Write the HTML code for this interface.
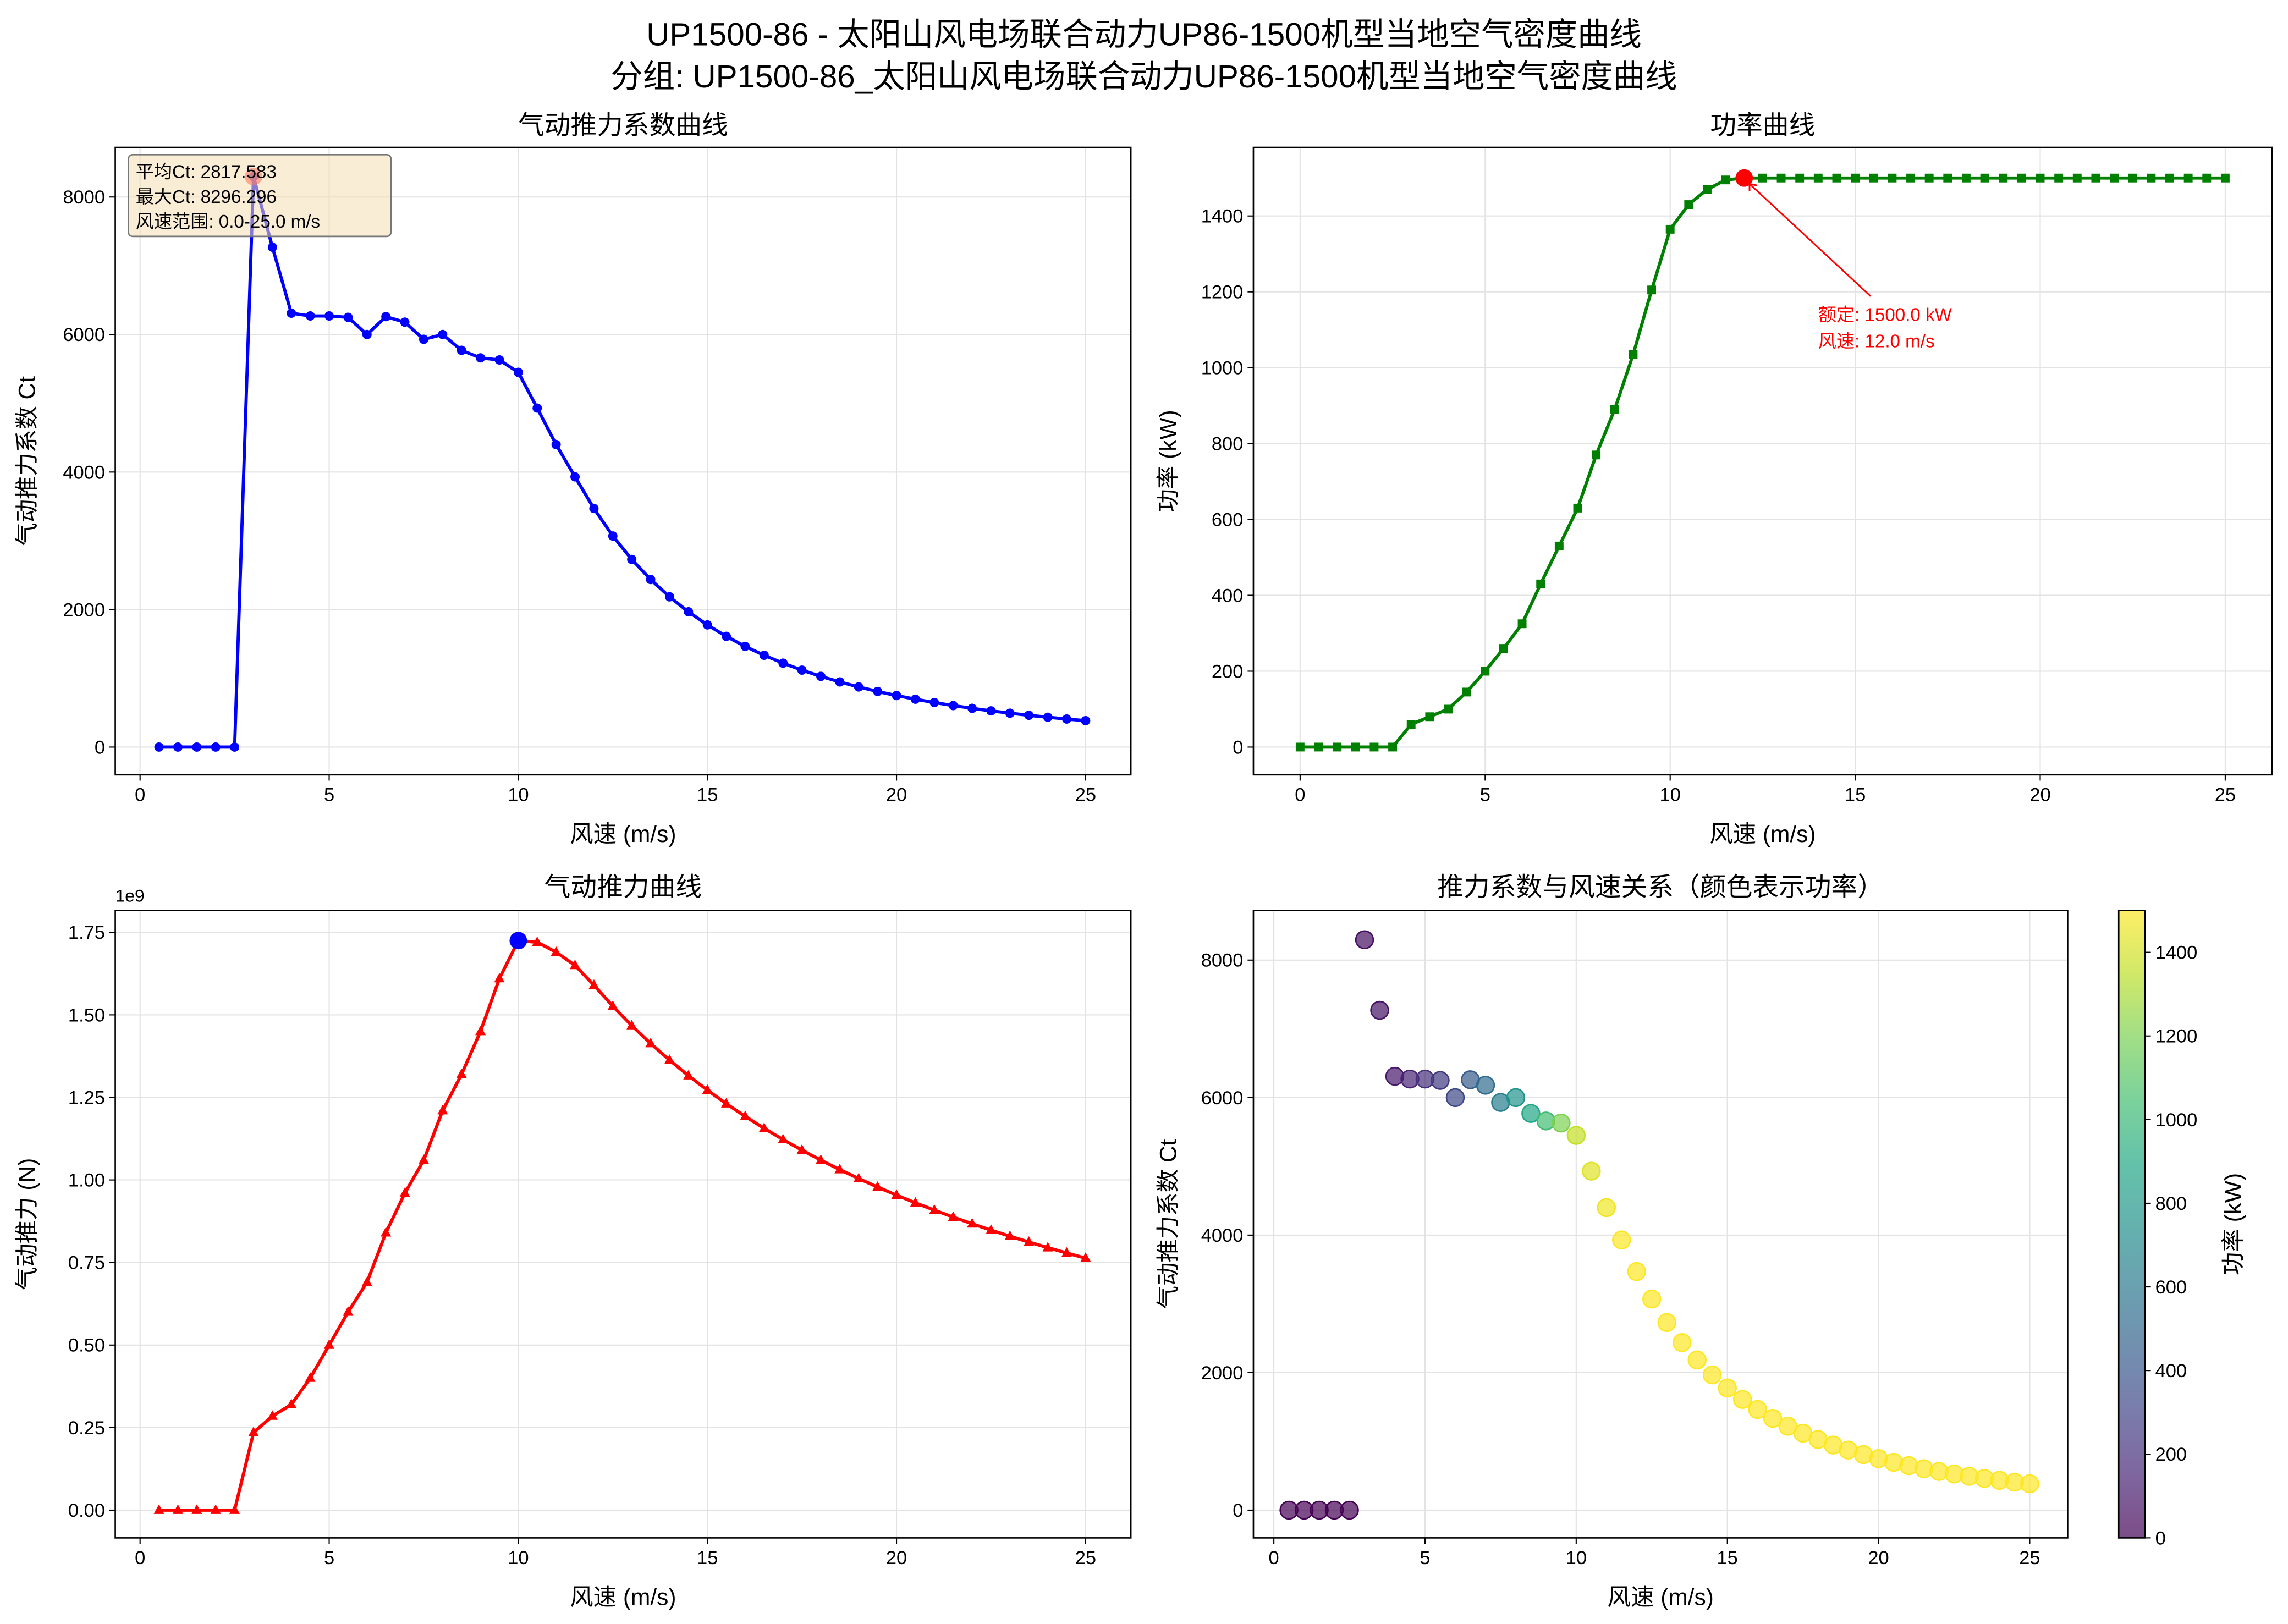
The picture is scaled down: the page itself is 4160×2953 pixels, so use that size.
<!DOCTYPE html>
<html><head><meta charset="utf-8">
<style>
html,body{margin:0;padding:0;background:#fff;}
svg{display:block;}
text{font-family:"Liberation Sans","Noto Sans CJK SC",sans-serif;fill:#000;}
</style></head>
<body>
<svg id="s" xmlns="http://www.w3.org/2000/svg" width="4160" height="2953" viewBox="0 0 1568 1113">
<rect width="1568" height="1113" fill="#fff"/>
<text x="784" y="31" font-size="22" text-anchor="middle">UP1500-86 - 太阳山风电场联合动力UP86-1500机型当地空气密度曲线</text>
<text x="784" y="60" font-size="22" text-anchor="middle">分组: UP1500-86_太阳山风电场联合动力UP86-1500机型当地空气密度曲线</text>
<text x="427" y="92" font-size="18" text-anchor="middle">气动推力系数曲线</text>
<text x="1208" y="92" font-size="18" text-anchor="middle">功率曲线</text>
<text x="427" y="614" font-size="18" text-anchor="middle">气动推力曲线</text>
<text x="1138" y="614" font-size="18" text-anchor="middle">推力系数与风速关系（颜色表示功率）</text>
<g id="g"></g>
</svg>
<script>
const NS="http://www.w3.org/2000/svg",G=document.getElementById('g');
function el(t,a,txt){const e=document.createElementNS(NS,t);for(const k in a)e.setAttribute(k,a[k]);if(txt!==undefined)e.textContent=txt;G.appendChild(e);return e;}
const ws=[];for(let i=1;i<=50;i++)ws.push(i*0.5);
const ctRead={0.5:0,1:0,1.5:0,2:0,2.5:0,3:8296,3.5:7270,4:6310,4.5:6270,5:6270,5.5:6250,6:6000,6.5:6260,7:6180,7.5:5930,8:6000,8.5:5770,9:5660,9.5:5630,10:5450,10.5:4930,11:4400,11.5:3930};
const ct=ws.map(v=>v in ctRead?ctRead[v]:3470*Math.pow(12/v,3));
const pRead={0:0,0.5:0,1:0,1.5:0,2:0,2.5:0,3:60,3.5:80,4:100,4.5:145,5:200,5.5:260,6:325,6.5:430,7:530,7.5:630,8:770,8.5:890,9:1035,9.5:1205,10:1365,10.5:1430,11:1470,11.5:1495};
const pw=v=>v in pRead?pRead[v]:1500;
const tRead={0.5:0,1:0,1.5:0,2:0,2.5:0,3:.235,3.5:.285,4:.32,4.5:.40,5:.50,5.5:.60,6:.69,6.5:.84,7:.96,7.5:1.06,8:1.21,8.5:1.32,9:1.45,9.5:1.61,10:1.725,10.5:1.72,11:1.69,11.5:1.65};
const th=ws.map(v=>v in tRead?tRead[v]:1.59*12/v);

function axes(o){
 const {x0,x1,y0,y1,fx,fy,xt,yt,yl,xlab}=o;
 for(const t of xt){const x=fx(t);el('line',{x1:x,x2:x,y1:y0,y2:y1,stroke:'#e3e3e3','stroke-width':0.8});
  el('line',{x1:x,x2:x,y1:y1,y2:y1+4,stroke:'#000','stroke-width':0.8});
  el('text',{x:x,y:y1+18,'font-size':13,'text-anchor':'middle'},String(t));}
 for(const t of yt){const y=fy(t[0]);el('line',{x1:x0,x2:x1,y1:y,y2:y,stroke:'#e3e3e3','stroke-width':0.8});
  el('line',{x1:x0-4,x2:x0,y1:y,y2:y,stroke:'#000','stroke-width':0.8});
  el('text',{x:x0-7,y:y+4.5,'font-size':13,'text-anchor':'end'},t[1]);}
 el('text',{x:(x0+x1)/2,y:y1+46,'font-size':16,'text-anchor':'middle'},xlab||'风速 (m/s)');
 el('text',{x:0,y:0,'font-size':16,'text-anchor':'middle',transform:`translate(${o.ylx},${(y0+y1)/2}) rotate(-90)`},yl);
}
function frame(x0,x1,y0,y1){el('rect',{x:x0,y:y0,width:x1-x0,height:y1-y0,fill:'none',stroke:'#000','stroke-width':1});}
const xt=[0,5,10,15,20,25];
// Panel 1
{const x0=79,x1=775,y0=101,y1=531,fx=v=>96+v*25.92,fy=c=>512-c*377/8000;
 axes({x0,x1,y0,y1,fx,fy,xt,yt:[0,2000,4000,6000,8000].map(t=>[t,String(t)]),yl:'气动推力系数 Ct',ylx:24});
 el('polyline',{points:ws.map((v,i)=>fx(v)+','+fy(ct[i])).join(' '),fill:'none',stroke:'#0000ff','stroke-width':2.2,'stroke-linejoin':'round'});
 ws.forEach((v,i)=>el('circle',{cx:fx(v),cy:fy(ct[i]),r:3.2,fill:'#0000ff'}));
 el('circle',{cx:fx(3),cy:fy(8296),r:6,fill:'#ff0000','fill-opacity':0.6});
 el('rect',{x:88,y:106,width:180,height:56,rx:3,fill:'#f5deb3','fill-opacity':0.55,stroke:'#777','stroke-width':1});
 el('text',{x:93,y:122,'font-size':12.5},'平均Ct: 2817.583');
 el('text',{x:93,y:139,'font-size':12.5},'最大Ct: 8296.296');
 el('text',{x:93,y:156,'font-size':12.5},'风速范围: 0.0-25.0 m/s');
 frame(x0,x1,y0,y1);}
// Panel 2
{const x0=859,x1=1557,y0=101,y1=531,fx=v=>891+v*25.36,fy=p=>512-p*0.26;
 axes({x0,x1,y0,y1,fx,fy,xt,yt:[0,200,400,600,800,1000,1200,1400].map(t=>[t,String(t)]),yl:'功率 (kW)',ylx:806});
 const v2=[];for(let i=0;i<=50;i++)v2.push(i*0.5);
 el('polyline',{points:v2.map(v=>fx(v)+','+fy(pw(v))).join(' '),fill:'none',stroke:'#008000','stroke-width':2.2,'stroke-linejoin':'round'});
 v2.forEach(v=>el('rect',{x:fx(v)-3,y:fy(pw(v))-3,width:6,height:6,fill:'#008000'}));
 el('circle',{cx:fx(12),cy:fy(1500),r:6,fill:'#ff0000'});
 el('line',{x1:1282,y1:203,x2:1199,y2:126,stroke:'#ff0000','stroke-width':1.1});
 el('polyline',{points:'1199,131 1199,126 1204,127',fill:'none',stroke:'#ff0000','stroke-width':1.1});
 el('text',{x:1246,y:220,'font-size':12.5,style:'fill:#ff0000'},'额定: 1500.0 kW');
 el('text',{x:1246,y:238,'font-size':12.5,style:'fill:#ff0000'},'风速: 12.0 m/s');
 frame(x0,x1,y0,y1);}
// Panel 3
{const x0=79,x1=775,y0=624,y1=1054,fx=v=>96+v*25.92,fy=t=>1035-t*226.3;
 axes({x0,x1,y0,y1,fx,fy,xt,yt:[0,.25,.5,.75,1,1.25,1.5,1.75].map(t=>[t,t.toFixed(2)]),yl:'气动推力 (N)',ylx:24});
 el('text',{x:79,y:618,'font-size':12},'1e9');
 el('polyline',{points:ws.map((v,i)=>fx(v)+','+fy(th[i])).join(' '),fill:'none',stroke:'#ff0000','stroke-width':2.2,'stroke-linejoin':'round'});
 ws.forEach((v,i)=>{const x=fx(v),y=fy(th[i]);el('polygon',{points:`${x},${y-4} ${x-3.6},${y+2.6} ${x+3.6},${y+2.6}`,fill:'#ff0000'});});
 el('circle',{cx:fx(10),cy:fy(1.725),r:6,fill:'#0000ff'});
 frame(x0,x1,y0,y1);}
// Panel 4
const vir=[[68,1,84],[72,36,117],[65,68,135],[53,95,141],[42,120,142],[33,145,140],[34,168,132],[68,191,112],[122,209,81],[189,223,38],[253,231,37]];
function cmap(t){t=Math.max(0,Math.min(1,t))*10;const i=Math.min(9,Math.floor(t)),f=t-i,a=vir[i],b=vir[i+1];return `rgb(${a.map((c,k)=>Math.round(c+(b[k]-c)*f)).join(',')})`;}
{const x0=859,x1=1417,y0=624,y1=1054,fx=v=>873+v*20.72,fy=c=>1035-c*377/8000;
 axes({x0,x1,y0,y1,fx,fy,xt,yt:[0,2000,4000,6000,8000].map(t=>[t,String(t)]),yl:'气动推力系数 Ct',ylx:806});
 ws.forEach((v,i)=>{const c=cmap(pw(v)/1500);el('circle',{cx:fx(v),cy:fy(ct[i]),r:6,fill:c,'fill-opacity':0.7,stroke:c,'stroke-width':1});});
 frame(x0,x1,y0,y1);
 // colorbar
 const cx0=1452,cx1=1470;
 const defs=el('defs',{});const lg=document.createElementNS(NS,'linearGradient');lg.setAttribute('id','vg');lg.setAttribute('x1','0');lg.setAttribute('y1','1');lg.setAttribute('x2','0');lg.setAttribute('y2','0');
 vir.forEach((c,k)=>{const s=document.createElementNS(NS,'stop');s.setAttribute('offset',k/10);s.setAttribute('stop-color',`rgb(${c.join(',')})`);s.setAttribute('stop-opacity',0.7);lg.appendChild(s);});
 defs.appendChild(lg);
 el('rect',{x:cx0,y:y0,width:cx1-cx0,height:y1-y0,fill:'url(#vg)',stroke:'#000','stroke-width':1});
 for(let p=0;p<=1400;p+=200){const y=y1-p*(y1-y0)/1500;el('line',{x1:cx1,x2:cx1+4,y1:y,y2:y,stroke:'#000','stroke-width':0.8});
  el('text',{x:cx1+7,y:y+4.5,'font-size':13},String(p));}
 el('text',{x:0,y:0,'font-size':16,'text-anchor':'middle',transform:`translate(1536,${(y0+y1)/2}) rotate(-90)`},'功率 (kW)');}
</script>
</body></html>
